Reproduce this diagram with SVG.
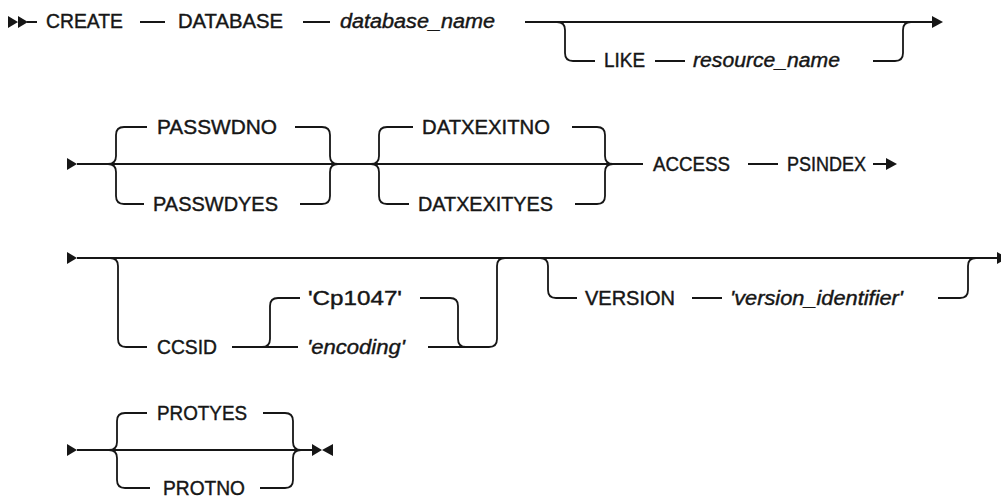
<svg xmlns="http://www.w3.org/2000/svg" width="1001" height="497" viewBox="0 0 1001 497">
<style>
text{font-family:"Liberation Sans",Arial,sans-serif;font-size:19.5px;fill:#161616;stroke:#161616;stroke-width:0.4}
.v{font-style:italic}
.c{fill:none;stroke:#161616;stroke-width:1.8}
.m{fill:#161616;stroke:none}
</style>
<rect width="1001" height="497" fill="#fff"/>
<g id="connectors">
<!-- row 1 -->
<path class="m" d="M8 16 L18 22 L8 28 Z M18 16 L28 22 L18 28 Z"/>
<path class="c" d="M27 22 H37 M140 22 H165 M303 22 H330 M525 22 H933"/>
<path class="m" d="M932 16 L943 22 L932 28 Z"/>
<path class="c" d="M557 22 Q565 22 565 30 V53 Q565 61 573 61 H595 M655 61 H685 M873 61 H895 Q903 61 903 53 V30 Q903 22 911 22"/>
<!-- row 2 -->
<path class="m" d="M67 158 L77 164 L67 170 Z"/>
<path class="c" d="M77 164 H643"/>
<path class="c" d="M108 164 Q116 164 116 156 V135 Q116 127 124 127 H147 M108 164 Q116 164 116 172 V196 Q116 204 124 204 H144"/>
<path class="c" d="M295 127 H322 Q330 127 330 135 V156 Q330 164 338 164 M300 204 H322 Q330 204 330 196 V172 Q330 164 338 164"/>
<path class="c" d="M371 164 Q379 164 379 156 V135 Q379 127 387 127 H413 M371 164 Q379 164 379 172 V196 Q379 204 387 204 H409"/>
<path class="c" d="M572 127 H597 Q605 127 605 135 V156 Q605 164 613 164 M575 204 H597 Q605 204 605 196 V172 Q605 164 613 164"/>
<path class="c" d="M748 164 H778 M873 164 H887"/>
<path class="m" d="M886 158 L897 164 L886 170 Z"/>
<!-- row 3 -->
<path class="m" d="M67 252 L77 258 L67 264 Z"/>
<path class="c" d="M77 258 H998"/>
<path class="m" d="M997 252 L1008 258 L997 264 Z"/>
<path class="c" d="M110 258 Q118 258 118 266 V339 Q118 347 126 347 H147 M232 347 H298 M262 347 Q270 347 270 339 V306 Q270 298 278 298 H300"/>
<path class="c" d="M420 298 H450 Q458 298 458 306 V339 Q458 347 466 347 M428 347 H489 Q497 347 497 339 V266 Q497 258 505 258"/>
<path class="c" d="M540 258 Q548 258 548 266 V290 Q548 298 556 298 H577 M692 298 H722 M938 298 H960 Q968 298 968 290 V266 Q968 258 976 258"/>
<!-- row 4 -->
<path class="m" d="M67 444 L77 450 L67 456 Z"/>
<path class="c" d="M77 450 H312"/>
<path class="c" d="M109 450 Q117 450 117 442 V421 Q117 413 125 413 H147 M109 450 Q117 450 117 458 V480 Q117 488 125 488 H150"/>
<path class="c" d="M263 413 H285 Q293 413 293 421 V442 Q293 450 301 450 M260 488 H285 Q293 488 293 480 V458 Q293 450 301 450"/>
<path class="m" d="M312 444 L322 450 L312 456 Z M333 444 L322 450 L333 456 Z"/>
</g>
<g id="n-create"><text x="46" y="28" textLength="77" lengthAdjust="spacingAndGlyphs">CREATE</text></g>
<g id="n-database"><text x="178" y="28" textLength="105" lengthAdjust="spacingAndGlyphs">DATABASE</text></g>
<g id="n-database_name"><text class="v" x="340" y="28" textLength="155" lengthAdjust="spacingAndGlyphs">database_name</text></g>
<g id="n-like"><text x="604" y="67" textLength="41" lengthAdjust="spacingAndGlyphs">LIKE</text></g>
<g id="n-resource_name"><text class="v" x="693" y="67" textLength="147" lengthAdjust="spacingAndGlyphs">resource_name</text></g>
<g id="n-passwdno"><text x="157" y="134" textLength="120" lengthAdjust="spacingAndGlyphs">PASSWDNO</text></g>
<g id="n-passwdyes"><text x="153" y="211" textLength="125" lengthAdjust="spacingAndGlyphs">PASSWDYES</text></g>
<g id="n-datxexitno"><text x="422" y="134" textLength="128" lengthAdjust="spacingAndGlyphs">DATXEXITNO</text></g>
<g id="n-datxexityes"><text x="418" y="211" textLength="135" lengthAdjust="spacingAndGlyphs">DATXEXITYES</text></g>
<g id="n-access"><text x="653" y="171" textLength="77" lengthAdjust="spacingAndGlyphs">ACCESS</text></g>
<g id="n-psindex"><text x="787" y="171" textLength="79" lengthAdjust="spacingAndGlyphs">PSINDEX</text></g>
<g id="n-ccsid"><text x="157" y="354" textLength="60" lengthAdjust="spacingAndGlyphs">CCSID</text></g>
<g id="n-cp1047"><text x="308" y="305" textLength="94" lengthAdjust="spacingAndGlyphs">'Cp1047'</text></g>
<g id="n-encoding"><text class="v" x="307" y="354" textLength="98" lengthAdjust="spacingAndGlyphs">'encoding'</text></g>
<g id="n-version"><text x="585" y="305" textLength="90" lengthAdjust="spacingAndGlyphs">VERSION</text></g>
<g id="n-version_identifier"><text class="v" x="730" y="305" textLength="173" lengthAdjust="spacingAndGlyphs">'version_identifier'</text></g>
<g id="n-protyes"><text x="157" y="420" textLength="90" lengthAdjust="spacingAndGlyphs">PROTYES</text></g>
<g id="n-protno"><text x="163" y="495" textLength="82" lengthAdjust="spacingAndGlyphs">PROTNO</text></g>
</svg>
